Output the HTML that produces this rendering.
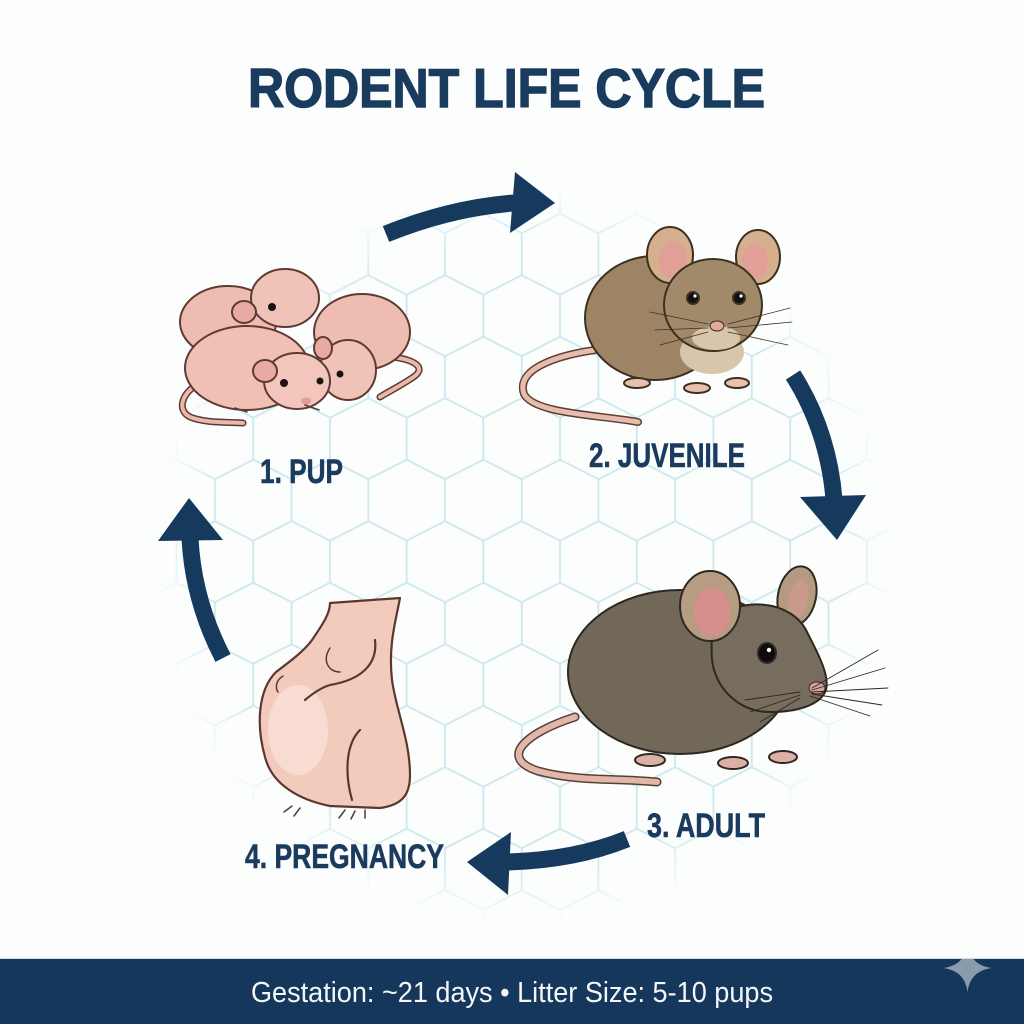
<!DOCTYPE html>
<html>
<head>
<meta charset="utf-8">
<style>
  html,body{margin:0;padding:0;background:#fcfdfd;}
  body{width:1024px;height:1024px;overflow:hidden;}
  svg{display:block;}
</style>
</head>
<body>
<svg width="1024" height="1024" viewBox="0 0 1024 1024" xmlns="http://www.w3.org/2000/svg">
  <defs>
    <pattern id="hex" patternUnits="userSpaceOnUse" x="349.125" y="438.7" width="76.7" height="123">
      <path fill="none" stroke="#c9e8ee" stroke-width="1.8"
        d="M19.175 -40.5 l38.35 19.5 v42 l-38.35 19.5 l-38.35 -19.5 v-42z
           M95.875 -40.5 l38.35 19.5 v42 l-38.35 19.5 l-38.35 -19.5 v-42z
           M19.175 82.5 l38.35 19.5 v42 l-38.35 19.5 l-38.35 -19.5 v-42z
           M95.875 82.5 l38.35 19.5 v42 l-38.35 19.5 l-38.35 -19.5 v-42z
           M-19.175 21 l38.35 19.5 v42 l-38.35 19.5 l-38.35 -19.5 v-42z
           M57.525 21 l38.35 19.5 v42 l-38.35 19.5 l-38.35 -19.5 v-42z"/>
    </pattern>
    <radialGradient id="fade" gradientUnits="userSpaceOnUse" cx="524" cy="555" r="370">
      <stop offset="0" stop-color="#fff" stop-opacity="1"/>
      <stop offset="0.84" stop-color="#fff" stop-opacity="1"/>
      <stop offset="1" stop-color="#fff" stop-opacity="0"/>
    </radialGradient>
    <mask id="m">
      <rect x="0" y="0" width="1024" height="1024" fill="url(#fade)"/>
    </mask>
    <clipPath id="barclip"><rect x="0" y="959" width="1024" height="65"/></clipPath>
  </defs>

  <rect x="0" y="0" width="1024" height="1024" fill="#fcfdfd"/>
  <rect x="0" y="0" width="1024" height="1024" fill="url(#hex)" mask="url(#m)"/>

  <!-- Title -->
  <text x="248" y="107" font-family="Liberation Sans, sans-serif" font-weight="bold" font-size="55" fill="#193b5e" stroke="#193b5e" stroke-width="1.4" textLength="517" lengthAdjust="spacingAndGlyphs">RODENT LIFE CYCLE</text>

  <!-- Arrows -->
  <g fill="none" stroke="#163a5e" stroke-width="17">
    <path d="M386,234 Q450,208 514,203"/>
    <path d="M793,375 Q828,430 834,499"/>
    <path d="M627,839 Q575,860 508,862"/>
    <path d="M223,658 Q193,600 190,538"/>
  </g>
  <g fill="#163a5e">
    <polygon points="515,172 555,203 510,233"/>
    <polygon points="800,497 866,495 837,540"/>
    <polygon points="511,832 467,862 508,895"/>
    <polygon points="158,541 189,498 223,540"/>
  </g>

  <!-- PUPS -->
  <g stroke="#5e3a33" stroke-width="2" stroke-linejoin="round" stroke-linecap="round">
    <path d="M200,383 C182,392 176,410 190,417 C205,423 225,422 243,423" fill="none" stroke="#5e3a33" stroke-width="7"/>
    <path d="M200,383 C182,392 176,410 190,417 C205,423 225,422 243,423" fill="none" stroke="#eab7ab" stroke-width="4"/>
    <path d="M393,357 C415,360 428,368 412,378 C400,386 388,392 380,397" fill="none" stroke="#5e3a33" stroke-width="7"/>
    <path d="M393,357 C415,360 428,368 412,378 C400,386 388,392 380,397" fill="none" stroke="#eab7ab" stroke-width="4"/>
    <ellipse cx="228" cy="322" rx="48" ry="36" fill="#eebdb2"/>
    <ellipse cx="285" cy="298" rx="34" ry="29" fill="#f0c3b8"/>
    <ellipse cx="244" cy="312" rx="12" ry="11" fill="#e9aaa2"/>
    <circle cx="272" cy="307" r="4" fill="#1c1010" stroke="none"/>
    <ellipse cx="362" cy="332" rx="48" ry="38" fill="#eebdb2"/>
    <ellipse cx="348" cy="370" rx="28" ry="30" fill="#f0c3b8"/>
    <ellipse cx="323" cy="348" rx="9" ry="11" fill="#e9aaa2"/>
    <circle cx="340" cy="374" r="3.5" fill="#1c1010" stroke="none"/>
    <ellipse cx="247" cy="368" rx="62" ry="42" fill="#f0c0b5"/>
    <ellipse cx="297" cy="381" rx="33" ry="28" fill="#f2c6bb"/>
    <ellipse cx="265" cy="371" rx="12" ry="11" fill="#e9aaa2"/>
    <circle cx="284" cy="383" r="4" fill="#1c1010" stroke="none"/>
    <circle cx="320" cy="381" r="3.5" fill="#1c1010" stroke="none"/>
    <ellipse cx="306" cy="401" rx="5" ry="3.5" fill="#e59d95" stroke="none"/>
    <path d="M235,408 l12,4 M305,405 l14,5" fill="none" stroke-width="1.5"/>
  </g>

  <!-- JUVENILE -->
  <g stroke="#3e3020" stroke-width="2" stroke-linejoin="round" stroke-linecap="round">
    <path d="M595,350 C560,355 515,368 524,394 C534,414 600,415 638,422" fill="none" stroke="#5a3f34" stroke-width="8"/>
    <path d="M595,350 C560,355 515,368 524,394 C534,414 600,415 638,422" fill="none" stroke="#e7bcae" stroke-width="5"/>
    <ellipse cx="655" cy="318" rx="70" ry="62" fill="#9c8464"/>
    <ellipse cx="712" cy="352" rx="32" ry="22" fill="#d8c6ac" stroke="none"/>
    <ellipse cx="637" cy="383" rx="13" ry="5" fill="#e8c0b0"/>
    <ellipse cx="697" cy="388" rx="13" ry="5" fill="#e8c0b0"/>
    <ellipse cx="737" cy="383" rx="12" ry="5" fill="#e8c0b0"/>
    <ellipse cx="670" cy="255" rx="23" ry="28" fill="#d6b08e"/>
    <ellipse cx="673" cy="260" rx="14" ry="19" fill="#e0a098" stroke="none"/>
    <ellipse cx="758" cy="257" rx="22" ry="27" fill="#d6b08e"/>
    <ellipse cx="755" cy="262" rx="13" ry="18" fill="#e0a098" stroke="none"/>
    <ellipse cx="713" cy="305" rx="49" ry="46" fill="#a18a6a"/>
    <ellipse cx="716" cy="338" rx="24" ry="12" fill="#d8c6ac" stroke="none"/>
    <circle cx="693" cy="298" r="6" fill="#111"/>
    <circle cx="739" cy="298" r="6" fill="#111"/>
    <circle cx="695" cy="296" r="1.6" fill="#fff" stroke="none"/>
    <circle cx="741" cy="296" r="1.6" fill="#fff" stroke="none"/>
    <ellipse cx="717" cy="326" rx="7" ry="5" fill="#e2a8a0" stroke-width="1"/>
    <path d="M708,324 L650,312 M708,328 L655,330 M708,332 L660,345 M728,324 L790,308 M728,328 L792,322 M728,332 L788,345" fill="none" stroke="#3e3020" stroke-width="0.8"/>
  </g>

  <!-- ADULT -->
  <g stroke="#2e2820" stroke-width="2" stroke-linejoin="round" stroke-linecap="round">
    <path d="M575,717 C525,733 498,758 538,771 C578,782 620,778 657,782" fill="none" stroke="#5a3f34" stroke-width="9"/>
    <path d="M575,717 C525,733 498,758 538,771 C578,782 620,778 657,782" fill="none" stroke="#e3b6aa" stroke-width="6"/>
    <ellipse cx="680" cy="672" rx="112" ry="82" fill="#71685a"/>
    <ellipse cx="650" cy="760" rx="15" ry="6" fill="#dcb0a4"/>
    <ellipse cx="733" cy="763" rx="15" ry="6" fill="#dcb0a4"/>
    <ellipse cx="783" cy="757" rx="14" ry="6" fill="#dcb0a4"/>
    <ellipse cx="797" cy="596" rx="19" ry="30" fill="#b49a80" transform="rotate(12 797 596)"/>
    <ellipse cx="798" cy="600" rx="10" ry="20" fill="#c99a8c" stroke="none" transform="rotate(12 798 600)"/>
    <path d="M715,620 C740,596 790,600 806,630 C816,650 830,674 826,690 C820,706 795,712 770,712 C740,712 716,690 712,660 C711,645 712,630 715,620 Z" fill="#776d5f"/>
    <ellipse cx="710" cy="606" rx="30" ry="35" fill="#b69c82"/>
    <ellipse cx="712" cy="612" rx="18" ry="24" fill="#d68f8c" stroke="none"/>
    <ellipse cx="767" cy="653" rx="9" ry="10" fill="#0e0c0a"/>
    <circle cx="769" cy="650" r="2.2" fill="#fff" stroke="none"/>
    <ellipse cx="817" cy="688" rx="8" ry="6" fill="#d9a0a0" stroke-width="1"/>
    <path d="M812,688 L878,650 M812,690 L885,668 M812,692 L888,688 M812,694 L882,705 M810,696 L870,716 M800,692 L745,700 M800,695 L750,712 M800,698 L760,722" fill="none" stroke="#2e2820" stroke-width="0.9"/>
  </g>

  <!-- PREGNANCY -->
  <g stroke="#5a3830" stroke-width="2.2" stroke-linejoin="round" stroke-linecap="round">
    <path d="M330,603 L400,598 C396,620 388,645 392,680 C396,710 410,740 410,775 C410,795 402,805 380,808 L330,806 C300,800 272,785 265,757 C256,725 258,690 276,672 C292,660 305,650 312,640 C320,628 330,615 330,603 Z" fill="#f2cbbd"/>
    <ellipse cx="298" cy="730" rx="30" ry="45" fill="#f8dcd2" stroke="none"/>
    <path d="M375,640 C378,665 360,680 330,685 C320,688 312,694 305,700" fill="none"/>
    <path d="M330,648 C322,660 328,672 340,672" fill="none" stroke-width="1.5"/>
    <path d="M360,730 C345,745 345,775 352,800" fill="none"/>
    <path d="M283,676 C276,680 275,688 278,692" fill="none" stroke-width="1.5"/>
    <path d="M292,806 l-8,6 M300,808 l-6,8 M345,810 l-6,8 M355,811 l-4,8 M365,810 l0,8" fill="none" stroke-width="1.5"/>
  </g>

  <!-- Labels -->
  <g font-family="Liberation Sans, sans-serif" font-weight="bold" font-size="34" fill="#1a3b5d" stroke="#1a3b5d" stroke-width="0.6">
    <text x="260" y="483" textLength="83" lengthAdjust="spacingAndGlyphs">1. PUP</text>
    <text x="589" y="467" textLength="156" lengthAdjust="spacingAndGlyphs">2. JUVENILE</text>
    <text x="647" y="837" textLength="118" lengthAdjust="spacingAndGlyphs">3. ADULT</text>
    <text x="245" y="868" textLength="199" lengthAdjust="spacingAndGlyphs">4. PREGNANCY</text>
  </g>

  <!-- Footer -->
  <rect x="0" y="958" width="1024" height="1" fill="#d8dde2"/>
  <rect x="0" y="959" width="1024" height="65" fill="#15375b"/>
  <text x="251" y="1002" font-family="Liberation Sans, sans-serif" font-size="29" fill="#f4f6f8" textLength="522" lengthAdjust="spacingAndGlyphs">Gestation: ~21 days • Litter Size: 5-10 pups</text>
  <path clip-path="url(#barclip)" d="M967.5,944 Q970,965 991.5,968 Q970,971 967.5,992 Q965,971 943.5,968 Q965,965 967.5,944 Z" fill="#8a9bae"/>
</svg>
</body>
</html>
